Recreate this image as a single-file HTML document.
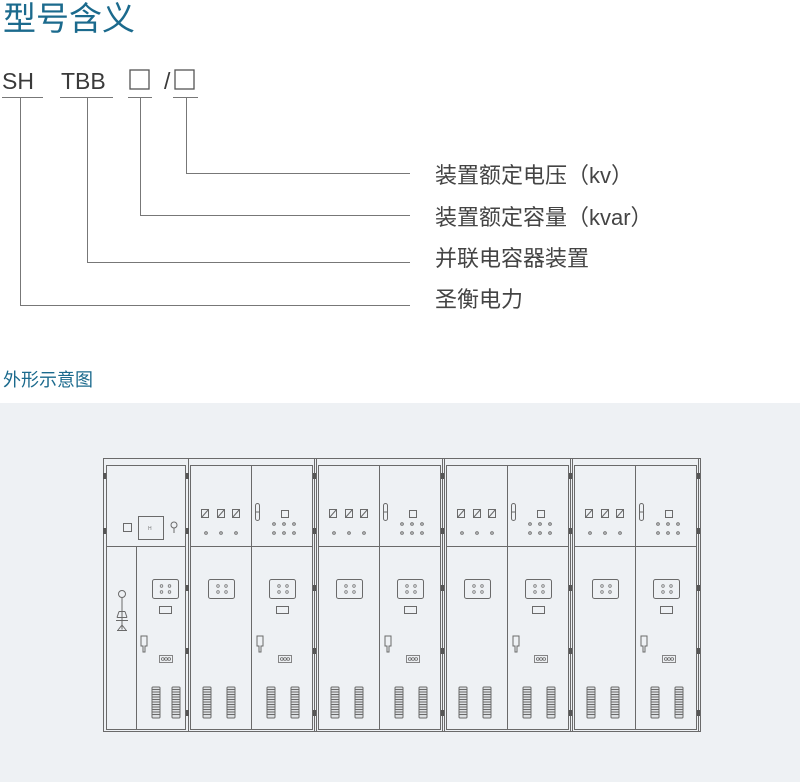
<!DOCTYPE html>
<html><head><meta charset="utf-8"><style>
html,body{margin:0;padding:0;background:#fff;}
body{width:800px;height:782px;overflow:hidden;position:relative;}
svg{position:absolute;left:0;top:0;}
</style></head><body>
<svg width="800" height="782" viewBox="0 0 800 782" xmlns="http://www.w3.org/2000/svg">
<defs>
<g id="dots2x2" fill="none" stroke="#777" stroke-width="0.8">
<circle cx="-4" cy="-3" r="1.3"/><circle cx="4" cy="-3" r="1.3"/><circle cx="-4" cy="3" r="1.3"/><circle cx="4" cy="3" r="1.3"/>
</g>
<g id="vent" stroke="#6a6a6a" stroke-width="1" fill="#dde0e3">
<rect x="0" y="0" width="8" height="31" rx="1"/>
<path d="M0 2.5h8M0 5h8M0 7.5h8M0 10h8M0 12.5h8M0 15h8M0 17.5h8M0 20h8M0 22.5h8M0 25h8M0 27.5h8"/>
</g>
<g id="handle" stroke="#6a6a6a" stroke-width="1" fill="none">
<path d="M0 0h6v10h-2v6h-2v-6h-2z"/>
</g>
<g id="ooo" stroke="#6a6a6a" stroke-width="0.8" fill="none">
<rect x="0" y="0" width="13" height="7"/><circle cx="3.3" cy="3.5" r="1.4"/><circle cx="6.5" cy="3.5" r="1.4"/><circle cx="9.7" cy="3.5" r="1.4"/>
</g>
<g id="hinge" fill="#555"><rect x="0" y="0" width="3" height="6"/></g>
<g id="cap" stroke="#6a6a6a" stroke-width="1" fill="none">
<rect x="0.5" y="0.5" width="126" height="273"/>
<rect x="2.5" y="7.5" width="122" height="264"/>
<line x1="63.5" y1="7.5" x2="63.5" y2="271.5"/>
<line x1="2.5" y1="88.5" x2="124.5" y2="88.5"/>
<rect x="13.5" y="51.5" width="7" height="8"/><path d="M13.5 59.5l7-8"/>
<rect x="29.5" y="51.5" width="7" height="8"/><path d="M29.5 59.5l7-8"/>
<rect x="44.5" y="51.5" width="7" height="8"/><path d="M44.5 59.5l7-8"/>
<circle cx="18" cy="75" r="1.3"/><circle cx="33" cy="75" r="1.3"/><circle cx="48" cy="75" r="1.3"/>
<rect x="67.5" y="45.5" width="4" height="17" rx="2"/><line x1="67.5" y1="54" x2="71.5" y2="54"/>
<rect x="93.5" y="52.5" width="7" height="7"/>
<circle cx="86" cy="66" r="1.3"/><circle cx="96" cy="66" r="1.3"/><circle cx="106" cy="66" r="1.3"/>
<circle cx="86" cy="75" r="1.3"/><circle cx="96" cy="75" r="1.3"/><circle cx="106" cy="75" r="1.3"/>
<rect x="20.5" y="121.5" width="26" height="19" rx="2"/>
<rect x="81.5" y="121.5" width="26" height="19" rx="2"/>
<rect x="88.5" y="148.5" width="12" height="7"/>
</g>
</defs>

<text x="3" y="30" font-family="'Liberation Sans','Noto Sans CJK SC',sans-serif" font-size="33" fill="#1b6a8d">型号含义</text>

<g font-family="'Liberation Sans','Noto Sans CJK SC',sans-serif" font-size="23" fill="#3a3a3a">
<text x="2" y="89">SH</text>
<text x="61" y="89">TBB</text>
<text x="164" y="89">/</text>
</g>
<g stroke="#555" stroke-width="1.3" fill="none">
<rect x="130" y="70" width="19" height="19"/>
<rect x="175" y="70" width="19" height="19"/>
</g>
<g stroke="#777" stroke-width="1" fill="none">
<path d="M2 97.5h41M60 97.5h53M128 97.5h24M173 97.5h25"/>
<path d="M20.5 97.5V305.5H410"/>
<path d="M87.5 97.5V262.5H410"/>
<path d="M140.5 97.5V215.5H410"/>
<path d="M186.5 97.5V173.5H410"/>
</g>
<g font-family="'Liberation Sans','Noto Sans CJK SC',sans-serif" font-size="22" fill="#444">
<text x="435" y="183">装置额定电压（kv）</text>
<text x="435" y="225">装置额定容量（kvar）</text>
<text x="435" y="266">并联电容器装置</text>
<text x="435" y="307">圣衡电力</text>
</g>

<text x="3" y="386" font-family="'Liberation Sans','Noto Sans CJK SC',sans-serif" font-size="18" fill="#1b6a8d">外形示意图</text>

<rect x="0" y="403" width="800" height="379" fill="#eef1f4"/>

<g stroke="#6a6a6a" stroke-width="1" fill="none">
<rect x="103.5" y="458.5" width="597" height="273"/>
<rect x="103.5" y="458.5" width="85" height="273"/>
<rect x="106.5" y="465.5" width="79" height="264"/>
<line x1="106.5" y1="546.5" x2="185.5" y2="546.5"/>
<line x1="136.5" y1="546.5" x2="136.5" y2="729.5"/>
<rect x="123.5" y="523.5" width="8" height="8"/>
<rect x="138.5" y="516.5" width="25" height="23"/>
<circle cx="174" cy="525" r="3"/><path d="M174 528v5"/>
<circle cx="122" cy="594" r="3.5"/>
<path d="M122 597.5v14M119 611.5h6M117 617.5h10M116 620.5h12M122 611.5v18M117 630.5h10M119 611.5l-2 6M125 611.5l2 6M122 625l-4 5M122 625l4 5"/>
<rect x="152.5" y="579.5" width="26" height="19" rx="2"/>
<rect x="159.5" y="606.5" width="12" height="7"/>
</g>
<text x="148" y="530" font-family="'Liberation Sans',sans-serif" font-size="5" fill="#777">H</text>
<use href="#dots2x2" x="165.5" y="589"/>
<use href="#handle" x="141" y="636"/>
<use href="#ooo" x="159.5" y="655.5"/>
<use href="#vent" x="152" y="687"/>
<use href="#vent" x="172" y="687"/>

<g id="c1">
<use href="#cap" x="188" y="458"/>
<use href="#dots2x2" x="222" y="589"/>
<use href="#dots2x2" x="283" y="589"/>
<use href="#handle" x="257" y="636"/>
<use href="#ooo" x="278.5" y="655.5"/>
<use href="#vent" x="203" y="687"/>
<use href="#vent" x="227" y="687"/>
<use href="#vent" x="267" y="687"/>
<use href="#vent" x="291" y="687"/>
</g>
<use href="#c1" x="128" y="0"/>
<use href="#c1" x="256" y="0"/>
<use href="#c1" x="384" y="0"/>

<g>
<use href="#hinge" x="103" y="473"/><use href="#hinge" x="103" y="528"/>
<use href="#hinge" x="186" y="473"/><use href="#hinge" x="186" y="528"/><use href="#hinge" x="186" y="585"/><use href="#hinge" x="186" y="648"/><use href="#hinge" x="186" y="710"/>
<use href="#hinge" x="313" y="473"/><use href="#hinge" x="313" y="528"/><use href="#hinge" x="313" y="585"/><use href="#hinge" x="313" y="648"/><use href="#hinge" x="313" y="710"/>
<use href="#hinge" x="441" y="473"/><use href="#hinge" x="441" y="528"/><use href="#hinge" x="441" y="585"/><use href="#hinge" x="441" y="648"/><use href="#hinge" x="441" y="710"/>
<use href="#hinge" x="569" y="473"/><use href="#hinge" x="569" y="528"/><use href="#hinge" x="569" y="585"/><use href="#hinge" x="569" y="648"/><use href="#hinge" x="569" y="710"/>
<use href="#hinge" x="697" y="473"/><use href="#hinge" x="697" y="528"/><use href="#hinge" x="697" y="585"/><use href="#hinge" x="697" y="648"/><use href="#hinge" x="697" y="710"/>
</g>
</svg>
</body></html>
